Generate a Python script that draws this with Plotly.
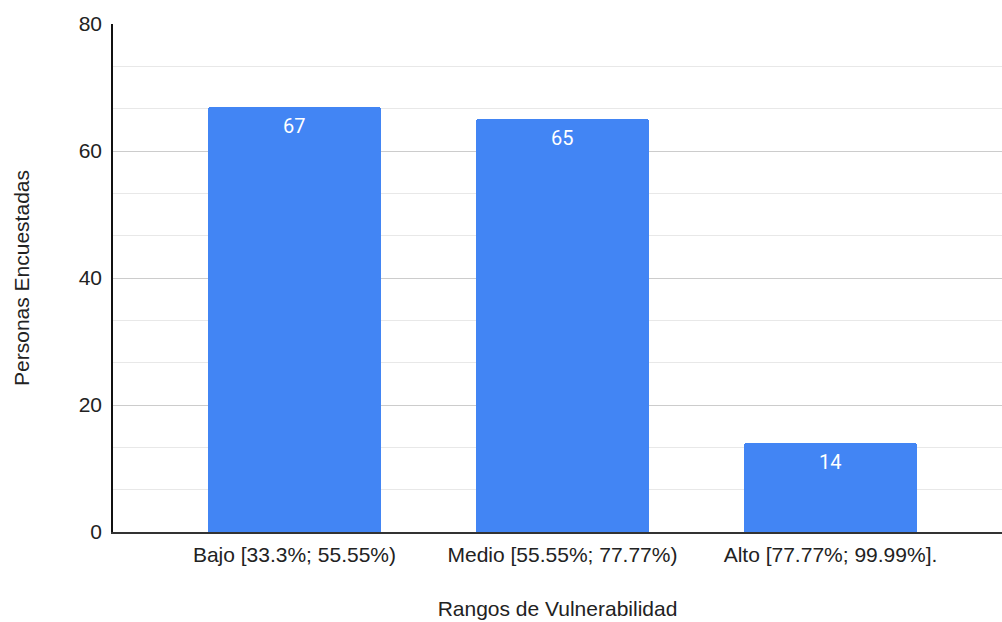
import plotly.graph_objects as go

# Survey respondents by vulnerability range
categories = ["Bajo [33.3%; 55.55%)", "Medio [55.55%; 77.77%)", "Alto [77.77%; 99.99%]."]
respondents = [67, 65, 14]

y_ticks = [0, 20, 40, 60, 80]

fig = go.Figure(
    go.Bar(
        x=categories,
        y=respondents,
        marker=dict(color="#4285F4", line=dict(width=0), cornerradius=3),
        width=0.646,
    )
)

# Value labels placed just below the top of each bar
for cat, val in zip(categories, respondents):
    fig.add_annotation(
        x=cat,
        y=val,
        text=str(val),
        showarrow=False,
        yanchor="middle",
        yshift=-19,
        font=dict(family="Roboto", size=20, color="#ffffff"),
    )

fig.update_layout(
    width=1002,
    height=622,
    margin=dict(l=113, r=0, t=24, b=90),
    paper_bgcolor="#ffffff",
    plot_bgcolor="#ffffff",
    font=dict(family="Liberation Sans, Arial, sans-serif", size=21, color="#222222"),
    showlegend=False,
    bargap=0,
)

fig.update_xaxes(
    range=[-0.677, 2.64],
    showgrid=False,
    showline=True,
    linecolor="#333333",
    linewidth=1.5,
    ticks="",
    ticklabelstandoff=3,
    tickfont=dict(size=21, color="#222222"),
    title=dict(text="Rangos de Vulnerabilidad", font=dict(size=21, color="#222222"), standoff=36),
)

fig.update_yaxes(
    range=[0, 80],
    tickvals=y_ticks,
    showgrid=True,
    gridcolor="#cccccc",
    gridwidth=1,
    minor=dict(dtick=20 / 3, tick0=0, showgrid=True, gridcolor="#e8e8e8", gridwidth=1),
    showline=True,
    linecolor="#111111",
    linewidth=1.5,
    zeroline=False,
    ticks="",
    ticklabelstandoff=5,
    tickfont=dict(size=21, color="#222222"),
    title=dict(text="Personas Encuestadas", font=dict(size=21, color="#222222"), standoff=43),
)

fig.write_html("out.html")
